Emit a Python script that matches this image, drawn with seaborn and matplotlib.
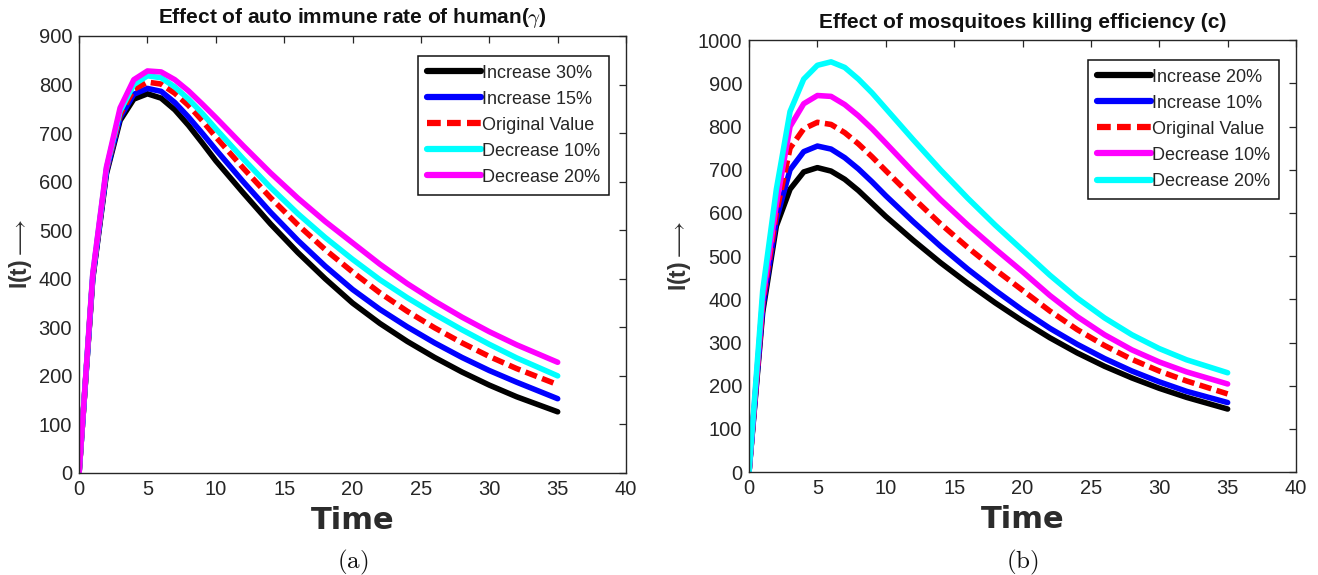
import numpy as np
import pandas as pd
import matplotlib
matplotlib.use("Agg")
import matplotlib.pyplot as plt
import seaborn as sns

# ---- (a) auto immune rate of human (gamma) ----
time_a = [0, 1, 2, 3, 4, 5, 6, 7, 8, 9, 10, 12, 14, 16, 18, 20, 22, 24, 26, 28, 30, 32, 35]
labels_a = ["Increase 30%", "Increase 15%", "Original Value", "Decrease 10%", "Decrease 20%"]
colors_a = ["#000000", "#0000ff", "#ff0000", "#00ffff", "#ff00ff"]
inc30_a = [0, 400, 616, 726, 770, 781, 772, 748, 716, 680, 643, 577, 513, 454, 400, 350, 308, 271, 238, 208, 181, 157, 126]
inc15_a = [0, 402, 620, 732, 780, 792, 786, 763, 733, 700, 666, 600, 537, 479, 426, 378, 337, 301, 268, 238, 211, 187, 153]
orig_a = [0, 405, 624, 738, 790, 805, 801, 782, 757, 726, 692, 628, 567, 511, 460, 414, 371, 333, 299, 268, 240, 215, 182]
dec10_a = [0, 408, 627, 745, 800, 818, 814, 795, 770, 741, 709, 647, 588, 534, 485, 440, 398, 361, 327, 295, 265, 237, 200]
dec20_a = [0, 410, 630, 752, 810, 828, 826, 810, 787, 760, 732, 674, 618, 566, 518, 474, 430, 390, 354, 321, 291, 264, 228]

# ---- (b) mosquitoes killing efficiency (c) ----
time_b = [0, 1, 2, 3, 4, 5, 6, 7, 8, 9, 10, 12, 14, 16, 18, 20, 22, 24, 26, 28, 30, 32, 35]
labels_b = ["Increase 20%", "Increase 10%", "Original Value", "Decrease 10%", "Decrease 20%"]
colors_b = ["#000000", "#0000ff", "#ff0000", "#ff00ff", "#00ffff"]
inc20_b = [0, 370, 570, 655, 695, 705, 697, 678, 652, 622, 592, 537, 485, 437, 392, 350, 311, 276, 245, 218, 194, 173, 146]
inc10_b = [0, 380, 585, 700, 742, 755, 748, 728, 702, 672, 640, 580, 523, 470, 421, 375, 333, 296, 263, 234, 209, 187, 161]
orig_b = [0, 390, 600, 750, 795, 810, 805, 786, 760, 730, 698, 635, 575, 520, 469, 421, 373, 330, 293, 261, 234, 211, 181]
dec10_b = [0, 400, 620, 800, 853, 872, 870, 851, 825, 795, 762, 695, 631, 572, 517, 464, 409, 360, 318, 283, 255, 232, 204]
dec20_b = [0, 420, 655, 835, 910, 942, 950, 937, 910, 878, 842, 770, 700, 634, 572, 514, 456, 403, 357, 318, 286, 260, 230]


def long_table(t, labels, series):
    frames = [pd.DataFrame({"Time": t, "I": s, "Scenario": lab}) for lab, s in zip(labels, series)]
    return pd.concat(frames, ignore_index=True)


df_a = long_table(time_a, labels_a, [inc30_a, inc15_a, orig_a, dec10_a, dec20_a])
df_b = long_table(time_b, labels_b, [inc20_b, inc10_b, orig_b, dec10_b, dec20_b])

sns.set_theme(style="white")
plt.rcParams.update({
    "font.family": ["Liberation Sans", "DejaVu Sans"],
    "mathtext.fontset": "cm",
    "axes.edgecolor": "#262626",
    "axes.linewidth": 1.0,
    "xtick.color": "#262626",
    "ytick.color": "#262626",
    "xtick.labelcolor": "#262626",
    "ytick.labelcolor": "#262626",
    "xtick.direction": "in",
    "ytick.direction": "in",
    "xtick.top": True,
    "ytick.right": True,
    "xtick.major.size": 5,
    "ytick.major.size": 5,
    "xtick.major.width": 0.9,
    "ytick.major.width": 0.9,
    "xtick.labelsize": 14.5,
    "ytick.labelsize": 14.5,
})

fig = plt.figure(figsize=(13.18, 5.75), dpi=100)
ax_a = fig.add_axes([0.0600, 0.1774, 0.4150, 0.7600])
ax_b = fig.add_axes([0.5683, 0.1790, 0.4150, 0.7510])


def draw_panel(ax, df, labels, colors, title, ymax, caption, cx):
    palette = dict(zip(labels, colors))
    dashes = {lab: ((2.2, 1.0) if lab == "Original Value" else "") for lab in labels}
    sns.lineplot(data=df, x="Time", y="I", hue="Scenario", style="Scenario",
                 hue_order=labels, style_order=labels, palette=palette,
                 dashes=dashes, linewidth=4, sort=False, ax=ax)
    ax.set_xlim(0, 40)
    ax.set_ylim(0, ymax)
    ax.set_xticks(np.arange(0, 41, 5))
    ax.set_yticks(np.arange(0, ymax + 1, 100))
    ax.tick_params(axis="both", pad=5)
    ax.set_title(title, fontsize=15, fontweight="bold", pad=9, color="#111111")
    ax.set_xlabel("Time", fontsize=22, fontweight="bold", color="#2b2b2b",
                  labelpad=5, family="DejaVu Sans")
    ax.set_ylabel(r"I(t)$\longrightarrow$", fontsize=16.5, fontweight="bold",
                  color="#333333", labelpad=3)
    for sp in ax.spines.values():
        sp.set_visible(True)
    handles, labs = ax.get_legend_handles_labels()
    leg = ax.legend(handles, labs, loc="upper right", bbox_to_anchor=(0.969, 0.955),
                    fontsize=13, frameon=True, fancybox=False, framealpha=1,
                    edgecolor="#111111", handlelength=3.0, handletextpad=0.05,
                    labelspacing=0.5, borderpad=0.5, borderaxespad=0)
    leg.get_frame().set_linewidth(1.1)
    for line in leg.get_lines():
        line.set_linewidth(4.5)
    fig.text(cx, 1 - 562 / 575, r"$\mathrm{(" + caption + ")}$", fontsize=18,
             ha="center", va="center", color="#111111")


draw_panel(ax_a, df_a, labels_a, colors_a,
           r"Effect of auto immune rate of human($\gamma$)", 900, "a", 353 / 1318)
draw_panel(ax_b, df_b, labels_b, colors_b,
           "Effect of mosquitoes killing efficiency (c)", 1000, "b", 1022 / 1318)

fig.savefig("out.png", dpi=100)
